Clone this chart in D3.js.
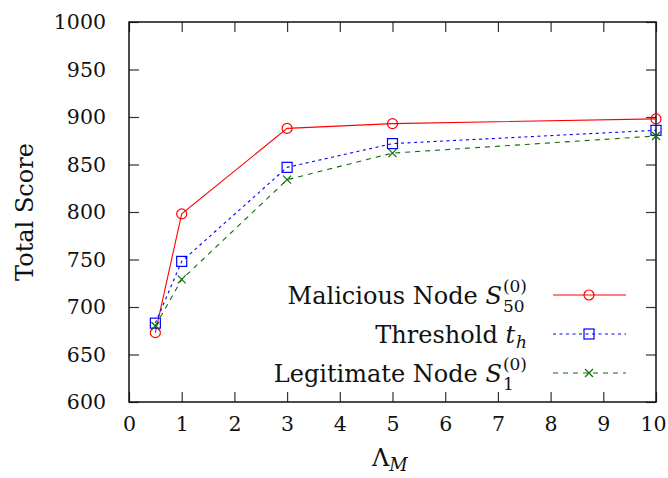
<!DOCTYPE html>
<html>
<head>
<meta charset="utf-8">
<script src="https://cdn.jsdelivr.net/npm/d3@7"></script>
<style>
  body { margin: 0; background: #fff; }
</style>
</head>
<body>
<div id="chart"></div>
<script>
// values
let lambdaM = [0.5, 1, 3, 5, 10];
let maliciousScore = [673, 798, 888, 893, 898];
let thresholdScore = [683, 748, 847, 872, 886];
let legitScore = [680, 729, 834, 862, 880];
let xTicks = [0, 1, 2, 3, 4, 5, 6, 7, 8, 9, 10];
let yTicks = [600, 650, 700, 750, 800, 850, 900, 950, 1000];

let width = 668, height = 478;
let margin = {left: 129, right: 12, top: 22, bottom: 76};
let serif = "'DejaVu Serif', serif";

let svg = d3.select("#chart").append("svg")
    .attr("width", width)
    .attr("height", height);

let x = d3.scaleLinear().domain([0, 10]).range([margin.left, width - margin.right]);
let y = d3.scaleLinear().domain([600, 1000]).range([height - margin.bottom, margin.top]);

let tickLen = 10;

// axes with inward ticks, plus mirrored ones on top/right
let xAxisG = svg.append("g")
    .attr("transform", "translate(0," + y(600) + ")")
    .call(d3.axisBottom(x).tickValues(xTicks).tickSizeInner(-tickLen).tickSizeOuter(0).tickPadding(14).tickFormat(d3.format("d")))
    .call(g => g.select(".domain").remove());
svg.append("g")
    .attr("transform", "translate(0," + y(1000) + ")")
    .call(d3.axisTop(x).tickValues(xTicks).tickSizeInner(-tickLen).tickSizeOuter(0).tickFormat(""))
    .call(g => g.select(".domain").remove());
svg.append("g")
    .attr("transform", "translate(" + x(0) + ",0)")
    .call(d3.axisLeft(y).tickValues(yTicks).tickSizeInner(-tickLen).tickSizeOuter(0).tickPadding(23).tickFormat(d3.format("d")))
    .call(g => g.select(".domain").remove());
svg.append("g")
    .attr("transform", "translate(" + x(10) + ",0)")
    .call(d3.axisRight(y).tickValues(yTicks).tickSizeInner(-tickLen).tickSizeOuter(0).tickFormat(""))
    .call(g => g.select(".domain").remove());

svg.selectAll(".tick line").attr("stroke", "#333").attr("stroke-width", 1.2);
svg.selectAll(".tick text").attr("font-size", 20.5).style("font-family", serif).attr("fill", "#111");
// keep the last x label inside the page
xAxisG.selectAll(".tick text").filter(d => d == 10).attr("dx", -3);

// frame
svg.append("rect")
    .attr("x", x(0)).attr("y", y(1000))
    .attr("width", x(10) - x(0)).attr("height", y(600) - y(1000))
    .attr("fill", "none").attr("stroke", "#111").attr("stroke-width", 1.5);

let series = [
    {name: "Malicious Node ", math: "S", sub: "50", sup: "(0)", values: maliciousScore, color: "#ff0000", dash: null, marker: "circle"},
    {name: "Threshold ", math: "t", sub: "h", sup: null, values: thresholdScore, color: "#0000ff", dash: "3,3.5", marker: "square"},
    {name: "Legitimate Node ", math: "S", sub: "1", sup: "(0)", values: legitScore, color: "#0a6e0a", dash: "5,5", marker: "cross"}
];

let line = d3.line().x(d => x(d[0])).y(d => y(d[1]));

function drawMarker(g, type, cx, cy, color) {
    if (type == "circle") {
        g.append("circle").attr("cx", cx).attr("cy", cy).attr("r", 5)
            .attr("fill", "none").attr("stroke", color).attr("stroke-width", 1.2);
    } else if (type == "square") {
        g.append("rect").attr("x", cx - 5).attr("y", cy - 5).attr("width", 10).attr("height", 10)
            .attr("fill", "none").attr("stroke", color).attr("stroke-width", 1.2);
    } else {
        g.append("path").attr("d", "M" + (cx - 4) + "," + (cy - 4) + "L" + (cx + 4) + "," + (cy + 4) +
                "M" + (cx - 4) + "," + (cy + 4) + "L" + (cx + 4) + "," + (cy - 4))
            .attr("stroke", color).attr("stroke-width", 1.2);
    }
}

series.forEach(function(s) {
    let pts = lambdaM.map((l, i) => [l, s.values[i]]);
    let g = svg.append("g");
    g.append("path")
        .attr("d", line(pts))
        .attr("fill", "none")
        .attr("stroke", s.color)
        .attr("stroke-width", 1.1)
        .attr("stroke-dasharray", s.dash);
    pts.forEach(p => drawMarker(g, s.marker, x(p[0]), y(p[1]), s.color));
});

// legend
let legendRight = 527, sampleX0 = 553, sampleX1 = 626, markX = 589;
let rowY = [295, 334, 373];
series.forEach(function(s, i) {
    let g = svg.append("g");
    let t = g.append("text").attr("font-size", 24).attr("y", 9).style("font-family", serif).attr("fill", "#111");
    t.append("tspan").text(s.name);
    t.append("tspan").attr("font-style", "italic").text(s.math);
    let w = t.node().getComputedTextLength();
    let scriptW = 0;
    if (s.sup) {
        let sp = g.append("text").attr("font-size", 17).attr("x", w + 1).attr("y", -3)
            .style("font-family", serif).attr("fill", "#111").text(s.sup);
        scriptW = Math.max(scriptW, sp.node().getComputedTextLength());
    }
    let sb = g.append("text").attr("font-size", 17).attr("x", w + 1).attr("y", s.sup ? 17 : 14)
        .style("font-family", serif).attr("fill", "#111")
        .attr("font-style", s.sub == "h" ? "italic" : null).text(s.sub);
    scriptW = Math.max(scriptW, sb.node().getComputedTextLength());
    g.attr("transform", "translate(" + (legendRight - w - 1 - scriptW) + "," + rowY[i] + ")");

    svg.append("line")
        .attr("x1", sampleX0).attr("x2", sampleX1)
        .attr("y1", rowY[i]).attr("y2", rowY[i])
        .attr("stroke", s.color).attr("stroke-width", 1.1)
        .attr("stroke-dasharray", s.dash);
    drawMarker(svg, s.marker, markX, rowY[i], s.color);
});

// axis titles
let xt = svg.append("text")
    .attr("x", 372).attr("y", 466)
    .attr("font-size", 24).style("font-family", serif).attr("fill", "#111");
xt.append("tspan").text("Λ");
xt.append("tspan").attr("font-size", 18).attr("font-style", "italic").attr("dy", 5).text("M");

svg.append("text")
    .attr("transform", "translate(33,212) rotate(-90)")
    .attr("text-anchor", "middle")
    .attr("font-size", 24).style("font-family", serif).attr("fill", "#111")
    .text("Total Score");
</script>
</body>
</html>
